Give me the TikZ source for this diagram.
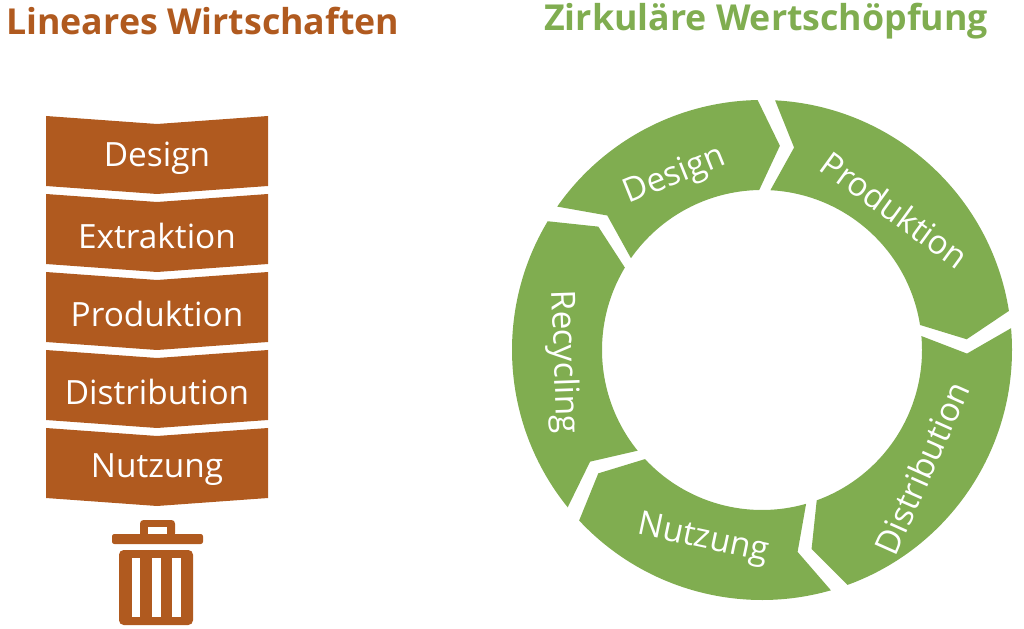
\documentclass[tikz,border=0pt]{standalone}
\usepackage{fontspec}
\setmainfont{Open Sans}
\definecolor{rust}{HTML}{B05A1F}
\definecolor{leaf}{HTML}{80AD50}
\begin{document}
\begin{tikzpicture}[x=0.3mm,y=0.3mm,
  lbl/.style={text=white,font=\fontsize{28.5}{32}\selectfont,inner sep=0},
  ttl/.style={font=\bfseries\fontsize{30.5}{36}\selectfont,inner sep=0,anchor=west}]
\useasboundingbox (0,0) rectangle (1024,-629);
\node[ttl,text=rust] (t1) at (6,-21) {Lineares Wirtschaften};
\node[ttl,text=leaf] (t2) at (544,-21) {Zirkuläre Wertschöpfung};
% linear chevrons
\foreach \t/\txt/\n in {116/Design/a,194/Extraktion/b,272/Produktion/c,350/Distribution/d,428/Nutzung/e}{
  \fill[rust] (46,-\t) -- (157,-\t-8) -- (268,-\t) -- (268,-\t-70) -- (157,-\t-78) -- (46,-\t-70) -- cycle;
  \node[lbl] (\n) at (157,-\t-42) {\txt};
}
% trash can
\fill[rust,rounded corners=3] (140,-520) rectangle (175,-537);
\fill[white] (148,-527) rectangle (167,-537);
\fill[rust,rounded corners=2] (112,-534) rectangle (203,-544);
\fill[rust,rounded corners=4] (119,-550) rectangle (193,-625);
\fill[white] (132,-558) rectangle (140,-617);
\fill[white] (152,-558) rectangle (161,-617);
\fill[white] (172,-558) rectangle (181,-617);
% ring
\foreach \s/\e in {89/7,7/-72,-72/-139,-139/-213,147/89}{
  \pgfmathsetmacro\sa{\s-2}
  \pgfmathsetmacro\ea{\e+2}
  \pgfmathsetmacro\sm{\sa-6}
  \pgfmathsetmacro\em{\ea-6}
  \fill[leaf,shift={(762,-350)}] (\sa:250) arc[start angle=\sa,end angle=\ea,radius=250]
    -- (\em:205) -- (\ea:160) arc[start angle=\ea,end angle=\sa,radius=160] -- (\sm:205) -- cycle;
}
\node[lbl,rotate=22] (r1) at (675,-176) {Design};
\node[lbl,rotate=-36] (r2) at (895,-210) {Produktion};
\node[lbl,rotate=66] (r3) at (922,-468) {Distribution};
\node[lbl,rotate=-12] (r4) at (703,-540) {Nutzung};
\node[lbl,rotate=-88] (r5) at (563,-362) {Recycling};
\end{tikzpicture}
\end{document}
